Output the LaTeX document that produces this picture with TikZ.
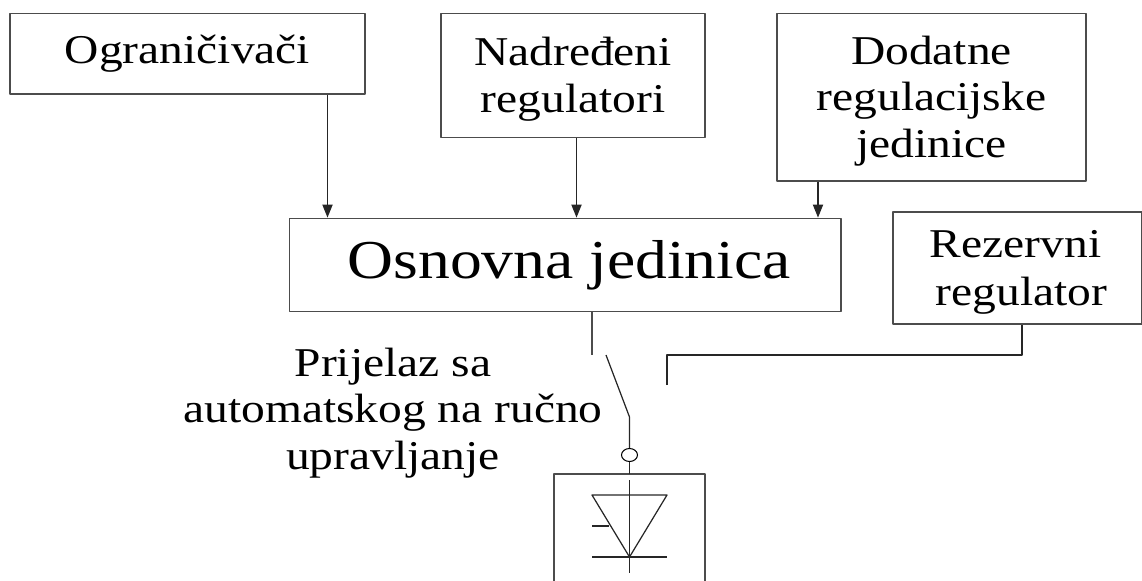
\documentclass[tikz,border=0pt]{standalone}
\usepackage{fontspec}
\setmainfont[FakeStretch=1.16]{Liberation Serif}
\usetikzlibrary{arrows.meta,shapes.geometric}
\tikzset{
	blok/.style={draw=black!70, line width=0.8pt, align=center, inner sep=0pt, font=\fontsize{23.3}{26.6}\selectfont},
	veza/.style={line width=0.7pt, black!85},
	strelica/.style={veza, -{Triangle[length=7.4pt, width=5.8pt]}}
}
\begin{document}
\begin{tikzpicture}[x=0.02cm, y=-0.02cm, line join=round]
	\useasboundingbox (0,0) rectangle (1142,581);
	% gornji blokovi
	\node[blok, minimum width=7.1cm, minimum height=1.614cm] (ogranicivaci) at (187.5,53.65) {Ograničivači};
	\node[blok, minimum width=5.28cm, minimum height=2.48cm] (nadredeni) at (573,75.3) {\rule{0pt}{20.5pt}Nadređeni\\regulatori};
	\node[blok, minimum width=6.18cm, minimum height=3.354cm] (dodatne) at (931.5,97.15) {\rule{0pt}{20.5pt}Dodatne\\regulacijske\\jedinice};
	\node[blok, minimum width=11.03cm, minimum height=1.868cm, font=\fontsize{31.2}{36}\selectfont] (osnovna) at (565.3,265) {\hspace*{0.16cm}Osnovna jedinica};
	\node[blok, minimum width=4.98cm, minimum height=2.24cm, font=\fontsize{23.3}{27.5}\selectfont] (rezervni) at (1017.5,268) {\rule{0pt}{20.5pt}Rezervni\hspace*{0.08cm}\\\hspace*{0.16cm}regulator};
	\node[align=center, inner sep=0pt, font=\fontsize{23.3}{26.6}\selectfont] (prijelaz) at (393,413) {Prijelaz sa\\automatskog na ručno\\upravljanje};
	% strelice
	\foreach \i/\j in {327.5/ogranicivaci, 576.5/nadredeni, 818/dodatne}
		\draw[strelica] (\i,0 |- \j.south) -- (\i,0 |- osnovna.north);
	% prekidac
	\coordinate (k1) at (592,355);
	\coordinate (k2) at (606,355);
	\coordinate (k3) at (629.5,417);
	\coordinate (k4) at (667,385);
	\coordinate (k5) at (667,355);
	\draw[veza, black!70] (592,0 |- osnovna.south) -- (k1);
	\draw[veza] (k2) -- (k3) -- (629.5,448);
	\draw[veza] (k4) -- (k5) -| (1022,0 |- rezervni.south);
	\node[draw, line width=0.6pt, ellipse, inner sep=0pt, minimum width=0.32cm, minimum height=0.26cm] (krug) at (629.5,455) {};
	% tiristor
	\coordinate (t1) at (554,581);
	\coordinate (t2) at (705,581);
	\draw[blok] (t1) -- (554,474) -- (705,474) -- (t2);
	\draw[veza] (krug.south) -- (629.5,474);
	\draw[veza] (592,495) -- (667,495) -- (629.5,557) -- cycle;
	\draw[veza] (629.5,480) -- (629.5,573);
	\draw[veza] (592,557) -- (667,557);
	\draw[veza] (592,526) -- (609,526);
\end{tikzpicture}
\end{document}
